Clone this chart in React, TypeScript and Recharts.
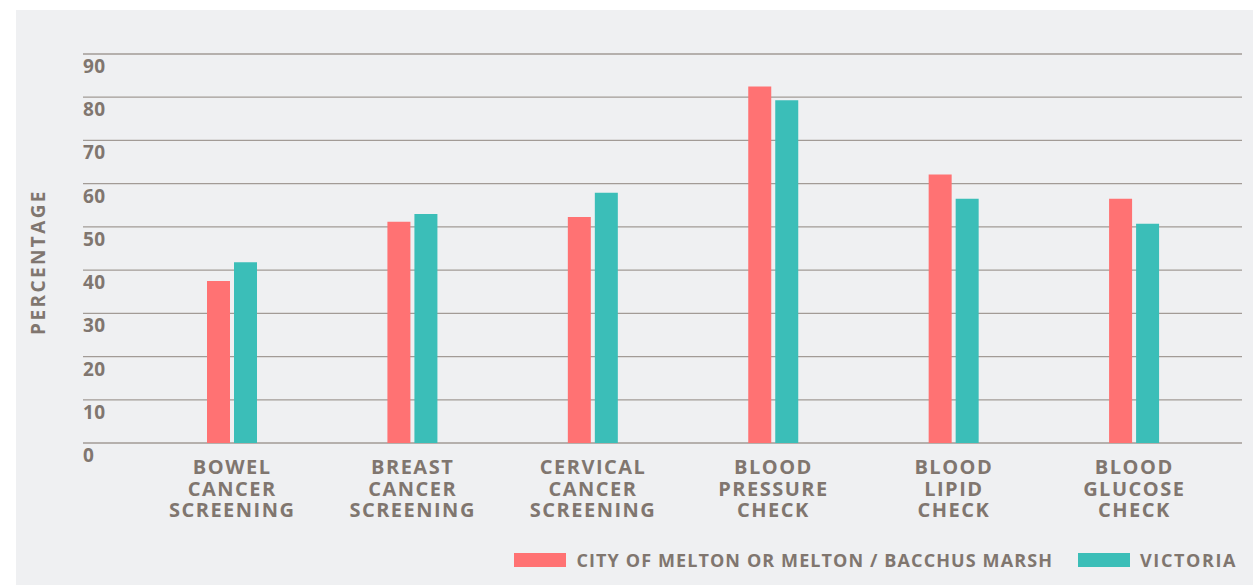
import { Bar, BarChart, CartesianGrid, Legend, XAxis, YAxis } from "recharts";

const categoryLines = [
  ["BOWEL", "CANCER", "SCREENING"],
  ["BREAST", "CANCER", "SCREENING"],
  ["CERVICAL", "CANCER", "SCREENING"],
  ["BLOOD", "PRESSURE", "CHECK"],
  ["BLOOD", "LIPID", "CHECK"],
  ["BLOOD", "GLUCOSE", "CHECK"],
];
const melton = [37.5, 51.2, 52.3, 82.5, 62.1, 56.5];
const victoria = [41.8, 53.0, 57.9, 79.3, 56.5, 50.7];
const yTicks = [0, 10, 20, 30, 40, 50, 60, 70, 80, 90];

const seriesNames = ["CITY OF MELTON OR MELTON / BACCHUS MARSH", "VICTORIA"];
const RED = "#ff7273";
const TEAL = "#3bbeb8";
const TEXT = "#80766f";
const FONT = "'Open Sans', sans-serif";

const data = categoryLines.map((lines, i) => ({
  name: lines.join(" "),
  melton: melton[i],
  victoria: victoria[i],
}));

const XTick = ({ x, y, index }: any) => {
  const lines = categoryLines[index] ?? [];
  return (
    <text x={x} y={y + 31} textAnchor="middle" fill={TEXT} fontFamily={FONT} fontWeight={700} fontSize={20} letterSpacing={1.5}>
      {lines.map((l, i) => (
        <tspan key={i} x={x} dy={i === 0 ? 0 : 21.5}>
          {l}
        </tspan>
      ))}
    </text>
  );
};

const YTick = ({ x, y, payload }: any) => (
  <text x={x} y={y + 19} textAnchor="start" fill={TEXT} fontFamily={FONT} fontWeight={700} fontSize={19} letterSpacing={0.5}>
    {payload.value}
  </text>
);

const LegendContent = () => (
  <div style={{ display: "flex", justifyContent: "flex-end", alignItems: "center", paddingRight: 16, fontFamily: FONT, fontWeight: 700, fontSize: 18, color: TEXT }}>
    {[RED, TEAL].map((c, i) => (
      <div key={i} style={{ display: "flex", alignItems: "center", marginLeft: i ? 25 : 0 }}>
        <div style={{ width: 52, height: 14, background: c, marginRight: 10 }} />
        <span style={{ letterSpacing: i ? 1.6 : 1.1 }}>{seriesNames[i]}</span>
      </div>
    ))}
  </div>
);

export default function App() {
  return (
    <div style={{ position: "absolute", left: 16, top: 10, width: 1237, height: 575, background: "#eff0f2" }}>
      <BarChart width={1237} height={575} data={data} margin={{ top: 44, right: 11, left: 0, bottom: 0 }} barSize={23} barGap={4}>
        <CartesianGrid vertical={false} stroke="#a29b96" strokeWidth={1.3} />
        <XAxis
          dataKey="name"
          height={142}
          axisLine={false}
          tickLine={false}
          tickSize={0}
          tickMargin={0}
          interval={0}
          padding={{ left: 59, right: 17.5 }}
          tick={<XTick />}
        />
        <YAxis
          domain={[0, 90]}
          ticks={yTicks}
          width={67}
          axisLine={false}
          tickLine={false}
          tickSize={0}
          tickMargin={0}
          tick={<YTick />}
          label={{
            content: () => (
              <text x={21.5} y={252} transform="rotate(-90 21.5 252)" textAnchor="middle" dominantBaseline="central" fill={TEXT} fontFamily={FONT} fontWeight={700} fontSize={19} letterSpacing={2.4}>
                PERCENTAGE
              </text>
            ),
          }}
        />
        <Legend verticalAlign="middle" layout="horizontal" wrapperStyle={{ top: 538, left: 0, width: 1237 }} content={<LegendContent />} />
        <Bar dataKey="melton" name={seriesNames[0]} fill={RED} isAnimationActive={false} />
        <Bar dataKey="victoria" name={seriesNames[1]} fill={TEAL} isAnimationActive={false} />
      </BarChart>
    </div>
  );
}
